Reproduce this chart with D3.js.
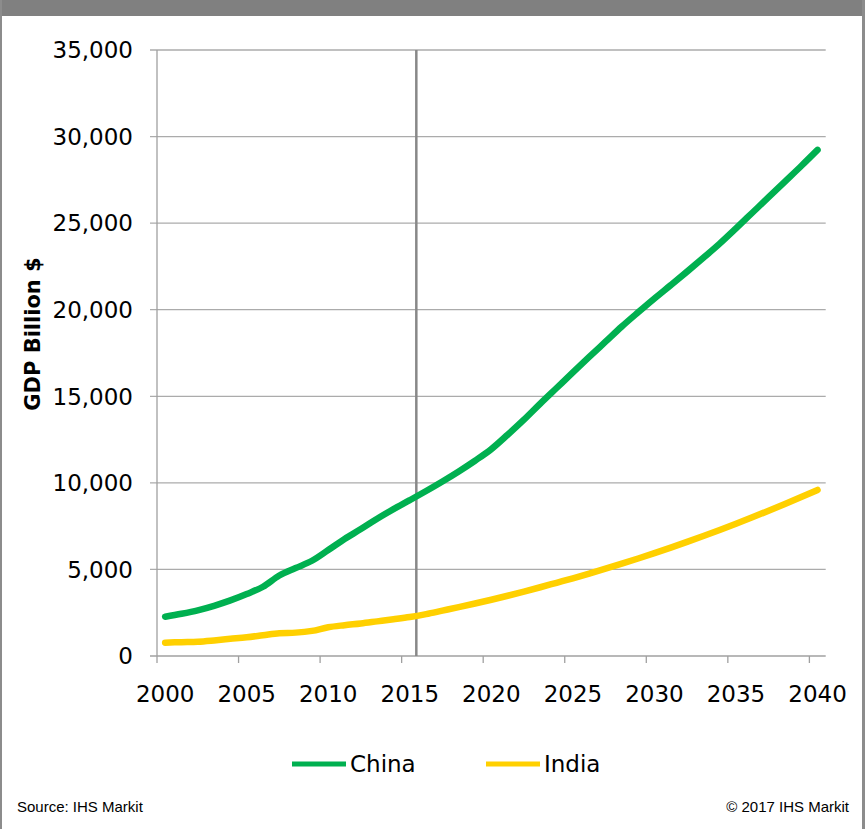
<!DOCTYPE html>
<html><head><meta charset="utf-8">
<script src="https://cdn.jsdelivr.net/npm/d3@7"></script>
<style>body{margin:0;background:#fff}svg{display:block}</style>
</head><body>
<script>
const years = d3.range(2000, 2041);
const china = [2270,2440,2640,2900,3210,3580,4000,4650,5080,5500,6120,6760,7330,7930,8480,9000,9530,10080,10660,11280,11950,12780,13650,14580,15480,16380,17270,18150,19030,19850,20650,21420,22200,23000,23820,24700,25600,26500,27400,28300,29230];
const india = [770,800,825,900,990,1080,1200,1320,1350,1450,1660,1780,1880,2000,2120,2250,2420,2620,2820,3030,3250,3480,3720,3970,4230,4490,4760,5040,5330,5630,5940,6260,6590,6930,7280,7640,8010,8390,8780,9180,9590];
const seriesNames = ["China","India"];
const seriesColors = ["#00B050","#FFD000"];
const yTicks = [0,5000,10000,15000,20000,25000,30000,35000];
const xTickLabels = [2000,2005,2010,2015,2020,2025,2030,2035,2040];
const forecastStart = 2015.4;
const yTitle = "GDP Billion $";
const sourceText = "Source: IHS Markit";
const copyrightText = "© 2017 IHS Markit";

const W = 867, H = 829;
const svg = d3.select("body").append("svg").attr("width", W).attr("height", H);

// frame
svg.append("rect").attr("x",0).attr("y",0).attr("width",W).attr("height",H).attr("fill","#fff");
svg.append("rect").attr("x",0).attr("y",0).attr("width",865).attr("height",16).attr("fill","#808080");
svg.append("rect").attr("x",0).attr("y",0).attr("width",2).attr("height",H).attr("fill","#8c8c8c");
svg.append("rect").attr("x",862).attr("y",0).attr("width",3).attr("height",H).attr("fill","#8c8c8c");

const x = d3.scaleLinear().domain([1999.5, 2040.5]).range([157, 825.7]);
const y = d3.scaleLinear().domain([0, 35000]).range([656, 50]);

const fmt = d3.format(",");
const font = "'DejaVu Sans', Verdana, sans-serif";

// gridlines
svg.append("g").selectAll("line").data(yTicks.filter(d=>d>0)).join("line")
  .attr("x1", 150).attr("x2", x(2040.5))
  .attr("y1", d=>y(d)).attr("y2", d=>y(d))
  .attr("stroke", "#ababab").attr("stroke-width", 1.3);

// axis lines
svg.append("line").attr("x1",157).attr("x2",157).attr("y1",y(35000)).attr("y2",y(0))
  .attr("stroke","#a0a0a0").attr("stroke-width",1.3);
svg.append("line").attr("x1",150).attr("x2",x(2040.5)).attr("y1",y(0)).attr("y2",y(0))
  .attr("stroke","#a0a0a0").attr("stroke-width",1.3);

// y labels
svg.append("g").selectAll("text").data(yTicks).join("text")
  .attr("x", 133).attr("y", d=>y(d)).attr("dy","0.36em")
  .attr("text-anchor","end").attr("font-family",font).attr("font-size",23)
  .attr("fill","#000").text(d=>fmt(d));

// x ticks at category boundaries
svg.append("g").selectAll("line").data(xTickLabels).join("line")
  .attr("x1", d=>x(d-0.5)).attr("x2", d=>x(d-0.5))
  .attr("y1", y(0)).attr("y2", y(0)+7)
  .attr("stroke","#a0a0a0").attr("stroke-width",1.3);

// x labels
svg.append("g").selectAll("text").data(xTickLabels).join("text")
  .attr("x", d=>x(d)).attr("y", 702)
  .attr("text-anchor","middle").attr("font-family",font).attr("font-size",23)
  .attr("fill","#000").text(d=>d);

// forecast divider
svg.append("line").attr("x1",x(forecastStart)).attr("x2",x(forecastStart))
  .attr("y1",y(35000)).attr("y2",y(0))
  .attr("stroke","#888").attr("stroke-width",2.5);

// lines
const line = d3.line().x((d,i)=>x(years[i])).y(d=>y(d)).curve(d3.curveMonotoneX);
[china, india].forEach((s,i)=>{
  svg.append("path").datum(s).attr("d", line)
    .attr("fill","none").attr("stroke", seriesColors[i]).attr("stroke-width",6.5)
    .attr("stroke-linecap","round").attr("stroke-linejoin","round");
});

// y title
svg.append("text").attr("transform","translate(40,334) rotate(-90)")
  .attr("text-anchor","middle").attr("font-family",font).attr("font-weight","bold")
  .attr("font-size",21).attr("fill","#000").text(yTitle);

// legend
const legendX = [292, 486];
seriesNames.forEach((n,i)=>{
  svg.append("line").attr("x1",legendX[i]).attr("x2",legendX[i]+54)
    .attr("y1",764).attr("y2",764).attr("stroke",seriesColors[i]).attr("stroke-width",5);
  svg.append("text").attr("x",legendX[i]+58).attr("y",764).attr("dy","0.36em")
    .attr("font-family",font).attr("font-size",23).attr("fill","#000").text(n);
});

// footer
svg.append("text").attr("x",17).attr("y",812).attr("font-family","'Liberation Sans', Arial, sans-serif")
  .attr("font-size",15).attr("fill","#000").text(sourceText);
svg.append("text").attr("x",849).attr("y",812).attr("text-anchor","end")
  .attr("font-family","'Liberation Sans', Arial, sans-serif")
  .attr("font-size",15).attr("fill","#000").text(copyrightText);
</script>
</body></html>
